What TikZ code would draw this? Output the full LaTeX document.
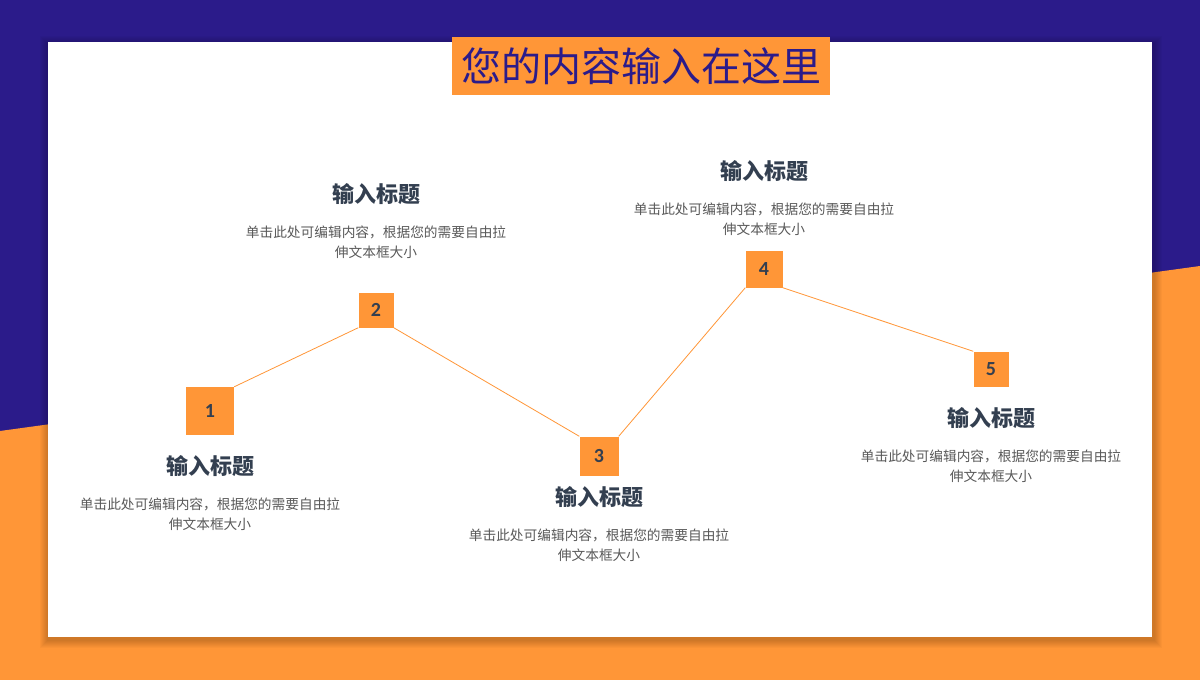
\documentclass[tikz,border=0pt]{standalone}
\usepackage{fontspec}
\setmainfont{Carlito}
\newfontfamily\cjk{Noto Sans CJK SC}
\usetikzlibrary{positioning}
\definecolor{sdblue}{RGB}{43,27,138}
\definecolor{sdorange}{RGB}{255,150,55}
\definecolor{sdslate}{RGB}{51,63,80}
\definecolor{sdgrey}{RGB}{89,89,89}

\tikzset{
    numbox/.style={fill=sdorange, inner sep=0pt, text=sdslate, font=\fontsize{20}{20}\selectfont\bfseries},
    headtext/.style={text=sdslate, inner sep=0pt, font=\cjk\fontsize{22}{26}\selectfont\bfseries},
    bodytext/.style={text=sdgrey, inner sep=0pt, align=center, font=\cjk\fontsize{13.7}{20}\selectfont},
    stepline/.style={draw=sdorange, line width=0.8pt}
}

\begin{document}
\begin{tikzpicture}[x=1pt, y=-1pt, node distance=10pt, on grid]
    \useasboundingbox (0,0) rectangle (1200,680);

    % background
    \fill[sdblue] (0,0) rectangle (1200,680);
    \fill[sdorange] (0,431) -- (1200,266) -- (1200,680) -- (0,680) -- cycle;

    % panel with soft shadow
    \foreach \d in {1,...,8}
    {
        \fill[black, opacity=0.025] (48-\d,42-\d+2) rectangle (1152+\d+2,637+\d+3);
    }
    \fill[white] (48,42) rectangle (1152,637);

    % title
    \node[fill=sdorange, text=sdblue, minimum width=378pt, minimum height=58pt, inner sep=0pt,
        font=\cjk\fontsize{40}{40}\selectfont] (title) at (641,66) {您的内容输入在这里};

    % steps
    \foreach \i/\x/\y/\s/\hd in {1/210/411/48/55, 2/376/310/35/-116, 3/599/456/39/41, 4/764/269/37/-98, 5/991/369/35/49}
    {
        \node[numbox, minimum size=\s pt] (sq\i) at (\x,\y) {\i};
        \node[headtext, below=\hd pt of sq\i] (hd\i) {输入标题};
        \node[bodytext, below=48pt of hd\i] (tx\i) {单击此处可编辑内容，根据您的需要自由拉\\伸文本框大小};
    }

    % connectors
    \draw[stepline] (sq1.north east) -- (sq2.south west);
    \draw[stepline] (sq2.south east) -- (sq3.north west);
    \draw[stepline] (sq3.north east) -- (sq4.south west);
    \draw[stepline] (sq4.south east) -- (sq5.north west);
\end{tikzpicture}
\end{document}
